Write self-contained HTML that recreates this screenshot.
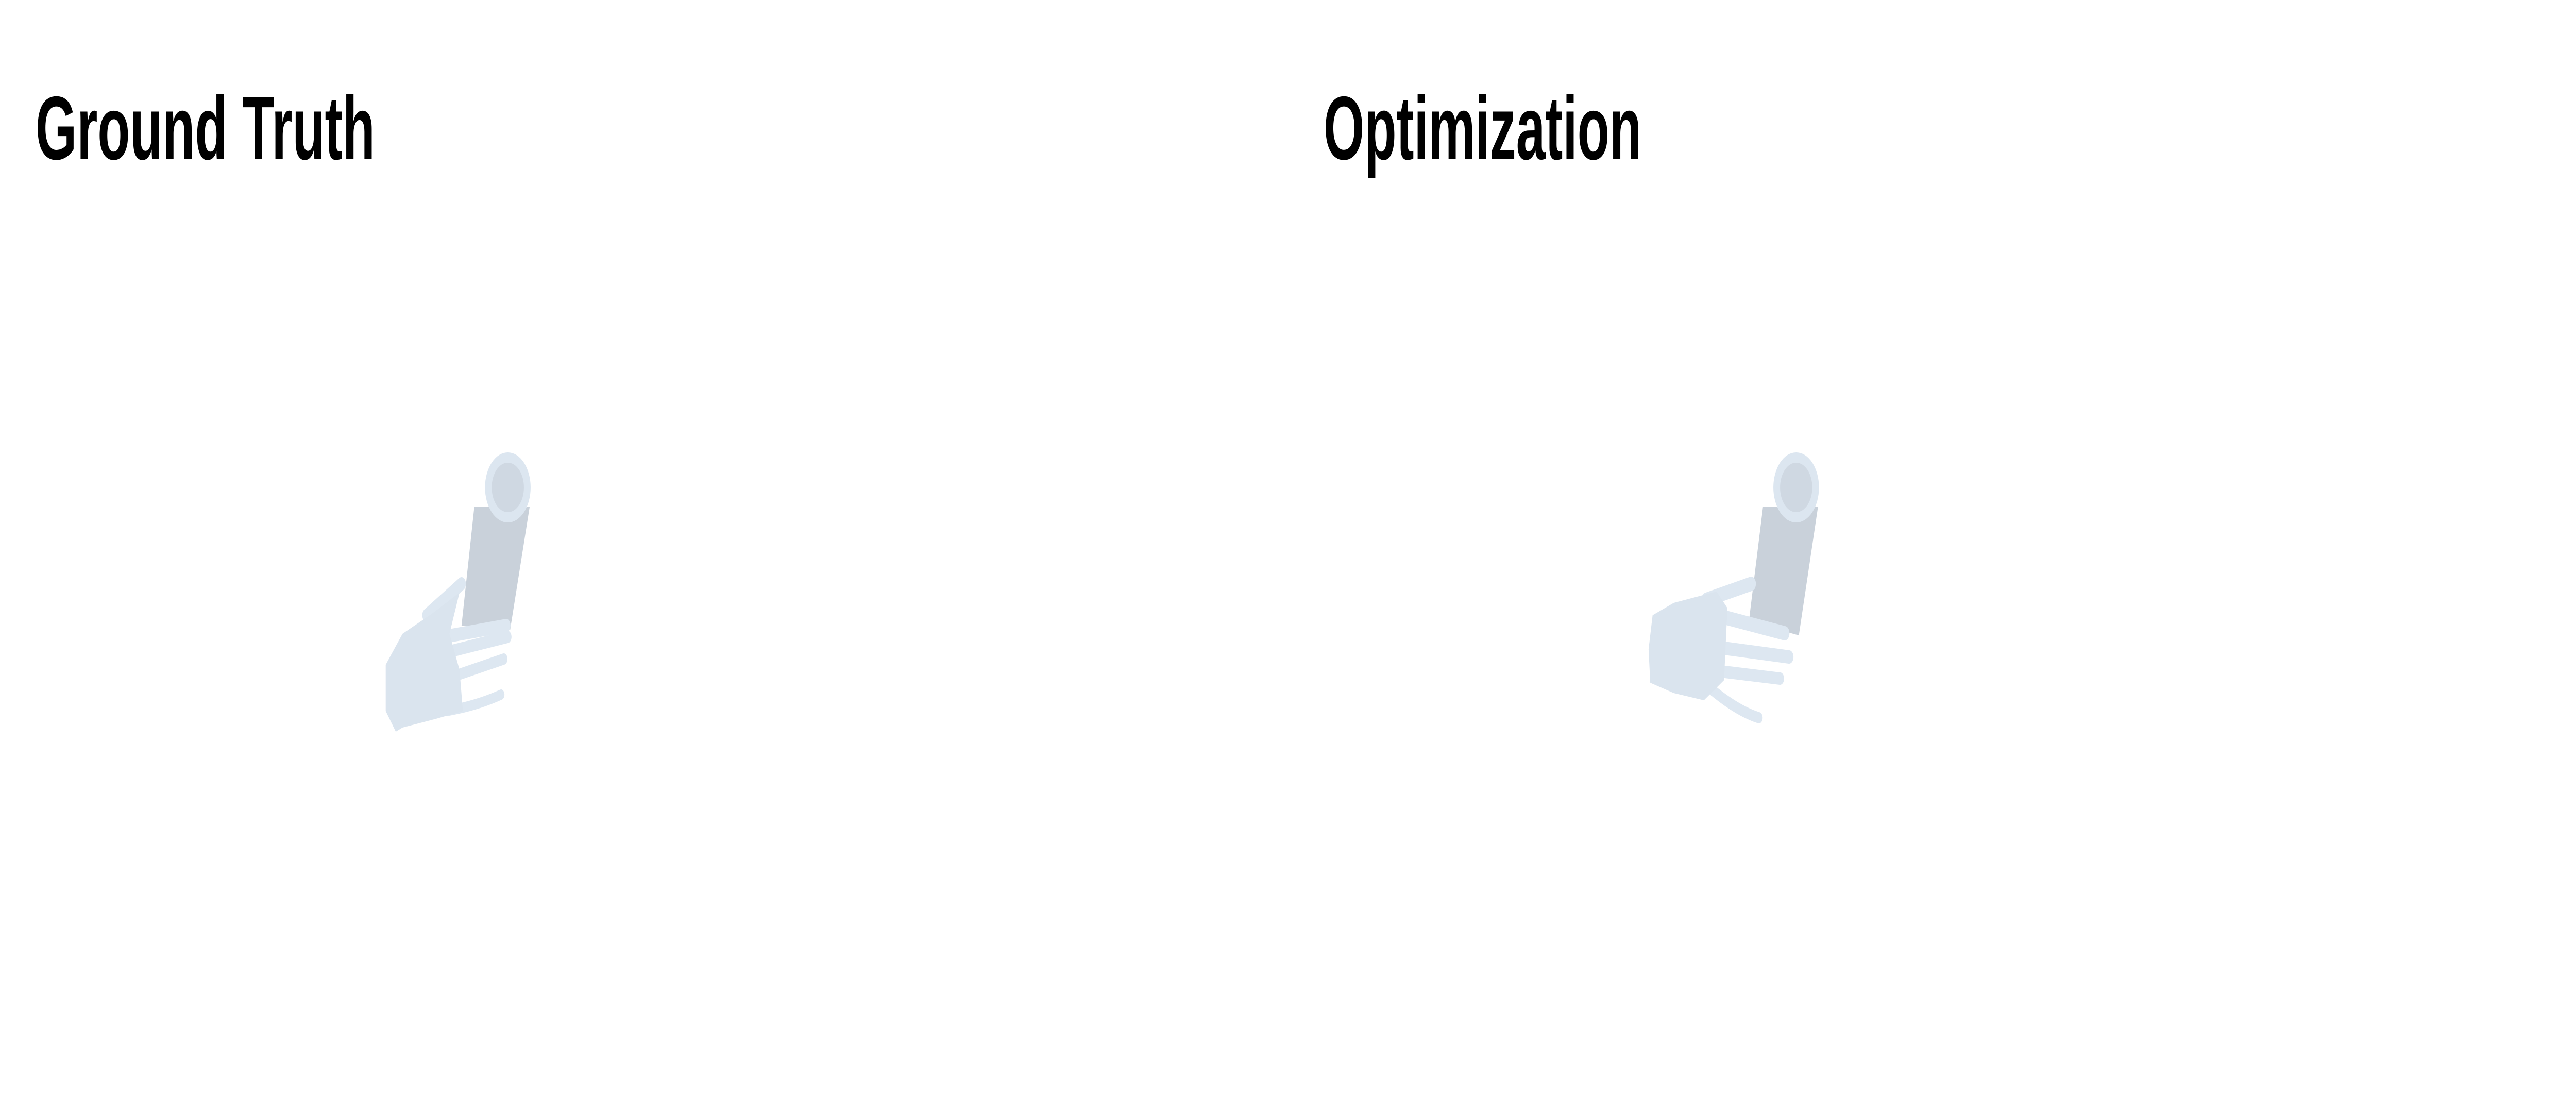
<!DOCTYPE html>
<html><head><meta charset="utf-8"><style>
html,body{margin:0;padding:0;background:#fff;width:100%;height:100%;overflow:hidden}
svg{display:block;width:100vw;height:100vh}
</style></head><body>
<svg viewBox="0 0 7680 2160" preserveAspectRatio="none" xmlns="http://www.w3.org/2000/svg">
<rect width="7680" height="2160" fill="#fff"/>
<text x="106" y="309" font-family="Liberation Sans, sans-serif" font-weight="bold" font-size="175" textLength="1012" lengthAdjust="spacingAndGlyphs" fill="#000">Ground Truth</text>
<text x="3946" y="309" font-family="Liberation Sans, sans-serif" font-weight="bold" font-size="175" textLength="948" lengthAdjust="spacingAndGlyphs" fill="#000">Optimization</text>

<g id="gt">
  <polygon points="1414,984 1579,984 1521,1222 1376,1214" fill="#c9d1da"/>
  <circle cx="1514" cy="946" r="68" fill="#dce6f0"/>
  <circle cx="1514" cy="946" r="48" fill="#cfd8e2"/>
  <g stroke="#dde7f1" stroke-linecap="round" fill="none">
    <line x1="1272" y1="1194" x2="1376" y2="1133" stroke-width="26"/>
    <line x1="1314" y1="1237" x2="1509" y2="1214" stroke-width="26"/>
    <line x1="1349" y1="1263" x2="1513" y2="1236" stroke-width="24"/>
    <line x1="1368" y1="1309" x2="1502" y2="1279" stroke-width="22"/>
    <path d="M1330 1380 Q1420 1370 1494 1348" stroke-width="20"/>
  </g>
  <polygon points="1150,1290 1200,1230 1290,1190 1370,1150 1340,1230 1370,1300 1380,1380 1300,1395 1200,1412 1180,1420 1150,1380" fill="#dae4ee"/>
</g>

<g id="opt">
  <polygon points="5256,984 5420,984 5363,1233 5214,1206" fill="#c9d1da"/>
  <circle cx="5355" cy="946" r="68" fill="#dce6f0"/>
  <circle cx="5355" cy="946" r="48" fill="#cfd8e2"/>
  <g stroke="#dde7f1" stroke-linecap="round" fill="none">
    <line x1="5087" y1="1164" x2="5221" y2="1133" stroke-width="28"/>
    <line x1="5118" y1="1194" x2="5321" y2="1229" stroke-width="28"/>
    <line x1="5118" y1="1256" x2="5334" y2="1275" stroke-width="26"/>
    <line x1="5118" y1="1302" x2="5307" y2="1317" stroke-width="24"/>
    <path d="M5099 1336 Q5180 1380 5244 1393" stroke-width="22"/>
  </g>
  <polygon points="4927,1194 4990,1170 5118,1148 5150,1180 5140,1320 5080,1359 4990,1345 4920,1325 4915,1260" fill="#dae4ee"/>
</g>
</svg>
</body></html>
